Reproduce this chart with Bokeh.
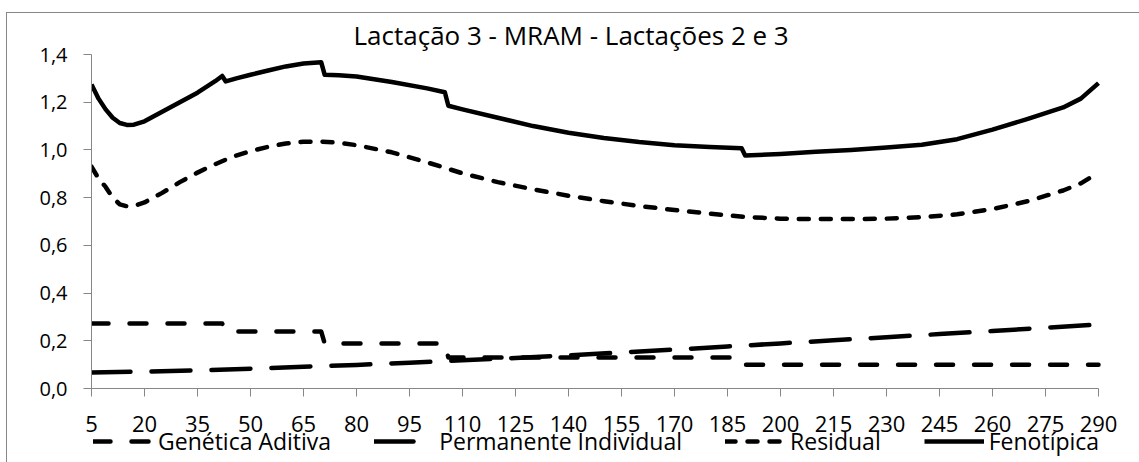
from bokeh.plotting import figure
from bokeh.layouts import column
from bokeh.models import Range1d, FixedTicker, CustomJSTickFormatter, Legend, LegendItem
from bokeh.embed import file_html
from bokeh.resources import INLINE

# Variance components along the lactation (days in milk)
gen_days = [5, 42, 43, 70, 71, 105, 106, 189, 190, 290]
gen_vals = [0.272, 0.272, 0.239, 0.239, 0.189, 0.189, 0.130, 0.130, 0.100, 0.100]

perm_days = [5, 20, 35, 50, 65, 80, 95, 110, 125, 140, 155, 170, 185, 200, 215, 230, 245, 260, 275, 290]
perm_vals = [0.067, 0.071, 0.076, 0.083, 0.091, 0.099, 0.108, 0.118, 0.128, 0.139,
             0.151, 0.163, 0.176, 0.189, 0.202, 0.215, 0.228, 0.241, 0.255, 0.268]

res_days = [5, 7, 9, 11, 13, 15, 17, 20, 25, 30, 35, 40, 45, 50, 55, 60, 65, 70, 75, 80,
            90, 100, 110, 120, 130, 140, 150, 160, 170, 180, 190, 200, 210, 220, 230, 240,
            250, 260, 270, 280, 285, 290]
res_vals = [0.930, 0.880, 0.845, 0.800, 0.772, 0.764, 0.765, 0.780, 0.820, 0.865, 0.905,
            0.940, 0.972, 0.995, 1.013, 1.027, 1.034, 1.035, 1.030, 1.020, 0.990, 0.948,
            0.902, 0.865, 0.835, 0.808, 0.785, 0.765, 0.748, 0.733, 0.719, 0.712, 0.710,
            0.710, 0.712, 0.718, 0.730, 0.752, 0.785, 0.830, 0.860, 0.905]

fen_days = [5, 7, 9, 11, 13, 15, 17, 20, 25, 30, 35, 40, 42, 43, 46, 50, 55, 60, 65, 70,
            71, 75, 80, 90, 100, 105, 106, 110, 120, 130, 140, 150, 160, 170, 180, 189,
            190, 200, 210, 220, 230, 240, 250, 260, 270, 280, 285, 290]
fen_vals = [1.274, 1.215, 1.170, 1.135, 1.113, 1.105, 1.106, 1.120, 1.160, 1.200, 1.240,
            1.288, 1.310, 1.287, 1.300, 1.315, 1.333, 1.350, 1.362, 1.368, 1.315, 1.313,
            1.308, 1.285, 1.258, 1.242, 1.185, 1.170, 1.135, 1.100, 1.072, 1.050, 1.033,
            1.020, 1.012, 1.007, 0.977, 0.983, 0.992, 1.000, 1.010, 1.022, 1.045, 1.085,
            1.130, 1.178, 1.215, 1.280]

x_ticks = list(range(5, 291, 15))
y_ticks = [0, 0.2, 0.4, 0.6, 0.8, 1.0, 1.2, 1.4]

series_names = ["Genética Aditiva", "Permanente Individual", "Residual", "Fenotípica"]
series_days = [gen_days, perm_days, res_days, fen_days]
series_vals = [gen_vals, perm_vals, res_vals, fen_vals]
series_dash = ["17 21", "39 21", "10 12", "solid"]

FONT = "Open Sans"
GREY = "#868686"
W = 4.5

# Canvas geometry (px). The frame runs on past day 290 to the right edge so the
# legend strip below (whose frame is aligned with this one) has room; the x axis
# itself is bounded to days 5..290.
WIDTH, HEIGHT = 1132, 449
BORDER_L, BORDER_R, BORDER_T, BORDER_B = 84, 0, 40, 74
AXIS_X1 = 1091                        # canvas px of day 290
DAY0, DAY1 = x_ticks[0], x_ticks[-1]
px_per_day = (AXIS_X1 - BORDER_L) / (DAY1 - DAY0)
x_end = DAY1 + (WIDTH - BORDER_R - AXIS_X1) / px_per_day

# ---- main chart -------------------------------------------------------------
p = figure(width=WIDTH, height=HEIGHT,
           x_range=Range1d(DAY0, x_end), y_range=Range1d(y_ticks[0], y_ticks[-1]),
           output_backend="svg", toolbar_location=None,
           min_border_left=BORDER_L, min_border_right=BORDER_R,
           min_border_top=BORDER_T, min_border_bottom=BORDER_B)

p.title.text = "Lactação 3 - MRAM - Lactações 2 e 3"
p.title.align = "left"
p.title.offset = 346 - BORDER_L
p.title.text_font = FONT
p.title.text_font_size = "26px"
p.title.text_font_style = "normal"
p.title.text_color = "#000000"
p.title.standoff = 3

p.outline_line_color = None
p.xgrid.grid_line_color = None
p.ygrid.grid_line_color = None

for ax in (p.xaxis[0], p.yaxis[0]):
    ax.axis_line_color = GREY
    ax.major_tick_line_color = GREY
    ax.minor_tick_line_color = None
    ax.major_tick_in = 0
    ax.major_tick_out = 8
    ax.major_label_text_font = FONT
    ax.major_label_text_color = "#000000"

p.xaxis.ticker = FixedTicker(ticks=x_ticks)
p.xaxis.bounds = (DAY0, DAY1)
p.xaxis.major_label_text_font_size = "22px"
p.xaxis.major_label_standoff = 19

p.yaxis.ticker = FixedTicker(ticks=y_ticks)
p.yaxis.formatter = CustomJSTickFormatter(code="return tick.toFixed(1).replace('.', ',');")
p.yaxis.major_label_text_font_size = "20px"
p.yaxis.major_label_standoff = 16

for d, v, dash in zip(series_days, series_vals, series_dash):
    p.line(d, v, line_color="black", line_width=W, line_dash=dash,
           line_cap="butt" if dash == "solid" else "round", line_join="round")

# ---- legend strip (transparent, laid over the bottom of the chart) ----------
LEG_H = 38
leg = figure(width=WIDTH, height=LEG_H, margin=(-LEG_H, 0, 0, 0),
             x_range=Range1d(0, 1), y_range=Range1d(0, 1),
             x_axis_type=None, y_axis_type=None,
             output_backend="svg", toolbar_location=None,
             min_border_left=BORDER_L, min_border_right=BORDER_R,
             min_border_top=0, min_border_bottom=0, outline_line_color=None,
             border_fill_color=None, background_fill_color=None)
leg.xgrid.grid_line_color = None
leg.ygrid.grid_line_color = None

handles = []
for d, v, dash in zip(series_days, series_vals, series_dash):
    # series lie far outside this strip's ranges: only their legend swatches show
    handles.append(leg.line(d, v, line_color="black", line_width=W, line_dash=dash,
                            line_cap="butt" if dash == "solid" else "round", line_join="round"))

legend = Legend(items=[LegendItem(label=n, renderers=[r]) for n, r in zip(series_names, handles)],
                orientation="horizontal", location=(2, 5),
                glyph_width=60, glyph_height=20, label_standoff=5, spacing=43,
                padding=0, margin=0, border_line_color=None, background_fill_alpha=0,
                label_text_font=FONT, label_text_font_size="23px", label_text_color="#000000")
leg.add_layout(legend, "center")

page = column(p, leg, margin=(12, 0, 0, 6), spacing=0,
              styles={"border-left": "1px solid #868686", "border-top": "1px solid #868686"})

open("out.html", "w").write(file_html(page, INLINE))
